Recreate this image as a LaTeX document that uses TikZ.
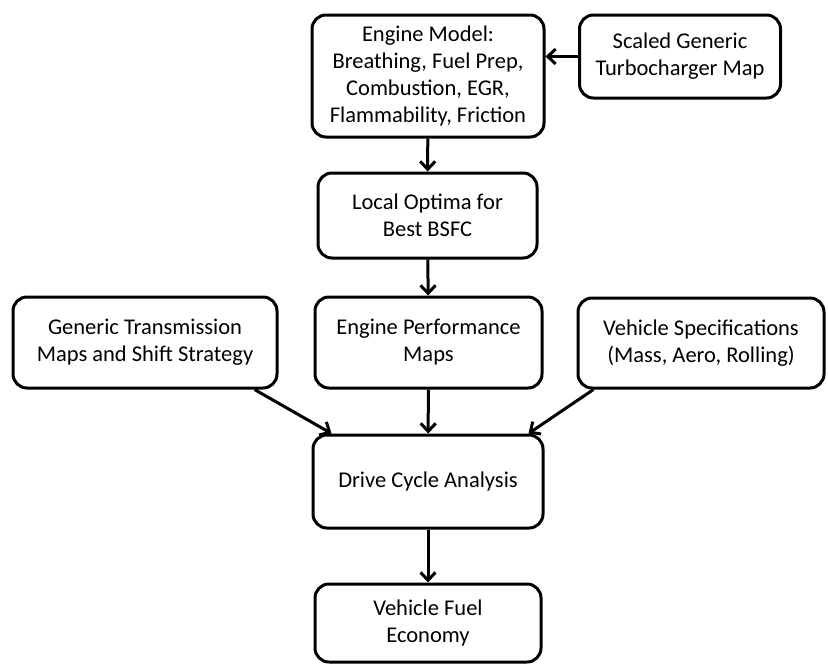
\documentclass[tikz,border=0pt]{standalone}
\usepackage{fontspec}
\setmainfont{Carlito}
\usetikzlibrary{arrows.meta}

\begin{document}
\begin{tikzpicture}[x=1pt,y=-1pt]
    \tikzstyle{block}=[draw,rounded corners=14pt,line width=3pt,align=center,inner sep=0,
        font=\fontsize{22.5}{27}\selectfont]
    \tikzstyle{flow}=[line width=3pt,-{Straight Barb[length=8pt,width=15pt,line width=3pt]}]
    \useasboundingbox (0,0) rectangle (828,665);
    \node[block,minimum width=232pt,minimum height=122pt] (engine) at (428,76)
        {Engine Model:\\Breathing, Fuel Prep,\\Combustion, EGR,\\Flammability, Friction};
    \node[block,minimum width=201pt,minimum height=83pt] (turbo) at (680,56.5)
        {Scaled Generic\\Turbocharger Map};
    \node[block,minimum width=219pt,minimum height=85pt] (optima) at (427.5,215.5)
        {Local Optima for\\Best BSFC};
    \node[block,minimum width=264pt,minimum height=91pt] (trans) at (145,342.5)
        {Generic Transmission\\Maps and Shift Strategy};
    \node[block,minimum width=227pt,minimum height=91pt] (perf) at (428.5,342.5)
        {Engine Performance\\Maps};
    \node[block,minimum width=246pt,minimum height=90pt] (vspec) at (701,343)
        {Vehicle Specifications\\(Mass, Aero, Rolling)};
    \node[block,minimum width=230pt,minimum height=93pt] (drive) at (428,481.5)
        {Drive Cycle Analysis};
    \node[block,minimum width=226pt,minimum height=78pt] (fuel) at (428,623)
        {Vehicle Fuel\\Economy};
    % connectors
    \draw[flow] (turbo.west) -- (turbo.west -| engine.east);
    \draw[flow] (engine) -- (optima);
    \draw[flow] (optima) -- (perf);
    \draw[flow] (perf) -- (drive);
    \draw[flow] ([xshift=-24pt]trans.south east) -- ([xshift=20pt]drive.north west);
    \draw[flow] ([xshift=17pt]vspec.south west) -- ([xshift=-16pt]drive.north east);
    \draw[flow] (drive) -- (fuel);
\end{tikzpicture}
\end{document}
